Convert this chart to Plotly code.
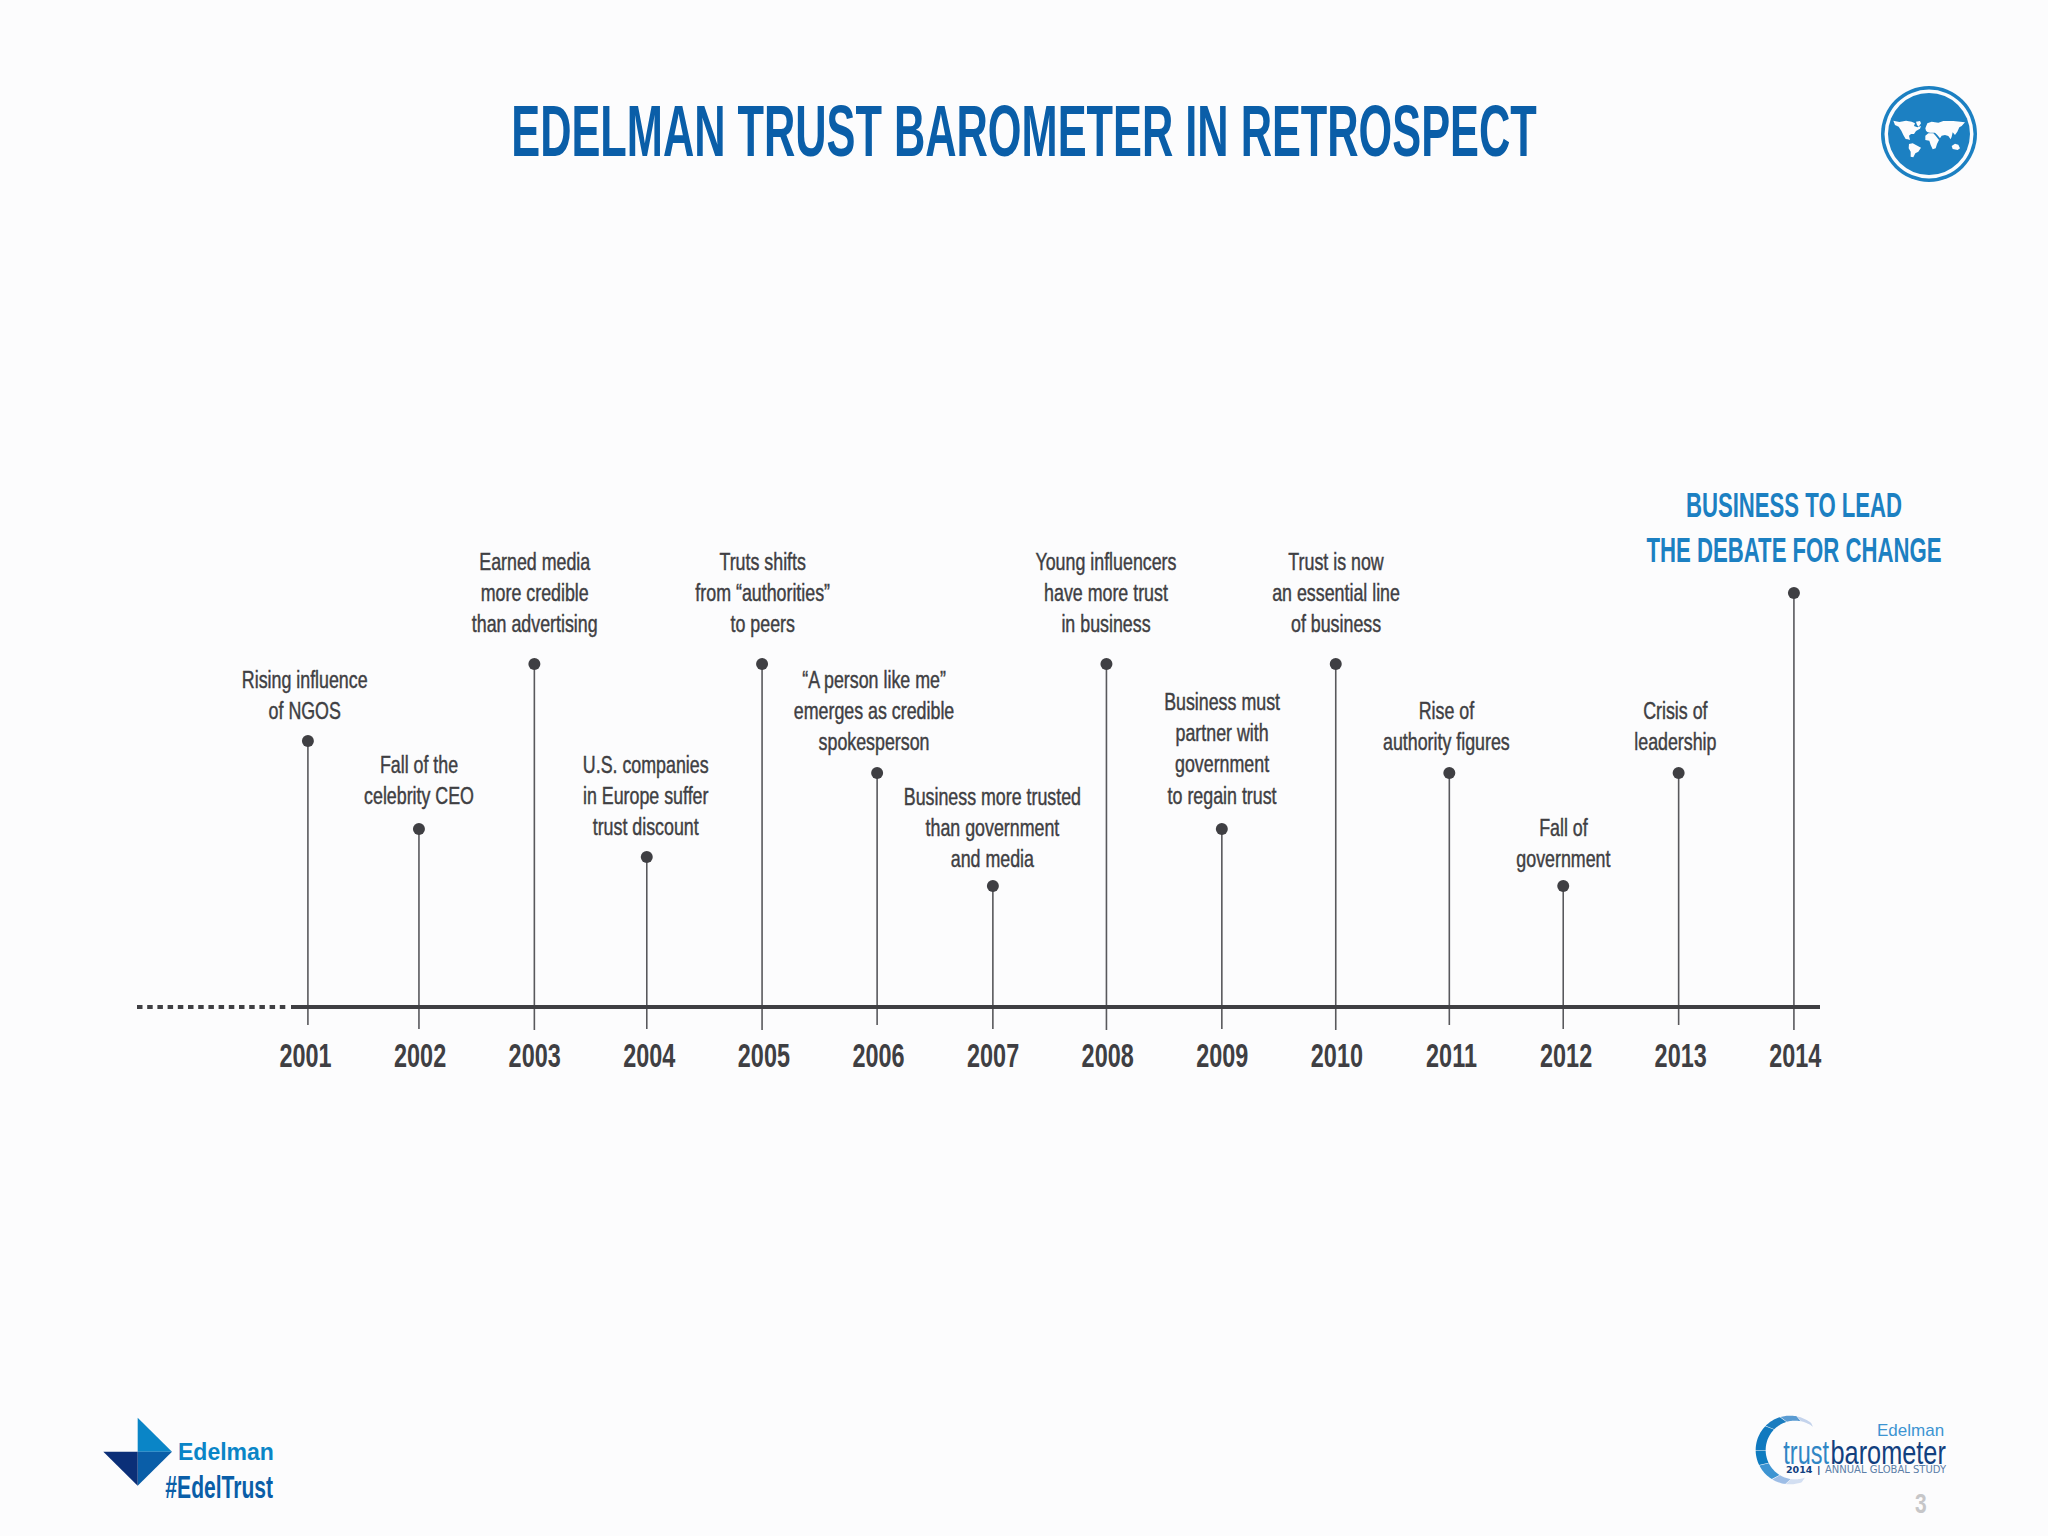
import numpy as np
import plotly.graph_objects as go

years = [2001, 2002, 2003, 2004, 2005, 2006, 2007, 2008, 2009, 2010, 2011, 2012, 2013, 2014]
# stems sit slightly off the year labels in the original
stem_years = [2001.021, 2001.990, 2002.997, 2003.978, 2004.984, 2005.988, 2006.998,
              2007.989, 2008.996, 2009.990, 2010.981, 2011.975, 2012.982, 2013.988]
stem_heights = [264, 176, 341, 148, 341, 232, 119, 341, 176, 341, 232, 119, 232, 412]
labels = [
    "Rising influence<br>of NGOS",
    "Fall of the<br>celebrity CEO",
    "Earned media<br>more credible<br>than advertising",
    "U.S. companies<br>in Europe suffer<br>trust discount",
    "Truts shifts<br>from “authorities”<br>to peers",
    "“A person like me”<br>emerges as credible<br>spokesperson",
    "Business more trusted<br>than government<br>and media",
    "Young influencers<br>have more trust<br>in business",
    "Business must<br>partner with<br>government<br>to regain trust",
    "Trust is now<br>an essential line<br>of business",
    "Rise of<br>authority figures",
    "Fall of<br>government",
    "Crisis of<br>leadership",
    "BUSINESS TO LEAD<br>THE DEBATE FOR CHANGE",
]
title_text = "EDELMAN TRUST BAROMETER IN RETROSPECT"

W, H = 2048, 1536
LEFT, RIGHT, BASE, TOP = 291, 1820, 1005, 0
BELOW = 30  # plot area runs past the axis so the stems can cross it
BOTTOM = BASE + BELOW
X_2001, STEP = 305.5, 114.6
NARROW = "Liberation Sans, sans-serif"
DARK = "#3f3f43"
BLUE = "#1c80c2"
NAVY = "#0a5ea8"
BG = "#fcfcfd"


def px(x):
    return (x - LEFT) / (RIGHT - LEFT)


def py(y):
    return (BOTTOM - y) / (BOTTOM - TOP)


def poly(pts, color):
    d = "M " + " L ".join(f"{px(x):.5f},{py(y):.5f}" for x, y in pts) + " Z"
    return dict(type="path", xref="paper", yref="paper", path=d,
                fillcolor=color, line_width=0, layer="above")


def disk(cx, cy, r, color):
    return dict(type="circle", xref="paper", yref="paper", x0=px(cx - r), x1=px(cx + r),
                y0=py(cy + r), y1=py(cy - r), fillcolor=color, line_width=0, layer="above")


def text(x, y, s, size, color, font=NARROW, anchor="center"):
    return dict(xref="paper", yref="paper", x=px(x), y=py(y), text=s, showarrow=False,
                xanchor=anchor, yanchor="middle", font=dict(family=font, size=size, color=color))


# stems run a little past the axis, standing in for ticks of uneven length
tails = [20, 24, 25, 24, 25, 20, 24, 25, 24, 25, 20, 24, 20, 25]

fig = go.Figure()
fig.add_trace(go.Scatter(
    x=stem_years, y=stem_heights, mode="markers",
    marker=dict(size=12, color=DARK),
    error_y=dict(type="data", symmetric=False, array=[0] * len(years),
                 arrayminus=[h + t for h, t in zip(stem_heights, tails)],
                 thickness=1.6, width=0, color="#58585c"),
    cliponaxis=False, hoverinfo="skip",
))

# label placement relative to each stem top
label_dx = [-3, 0, 0, -1, 0, -3, 0, 0, 0, 0, -3, 0, -3, 0]
label_gap = [30, 33, 40, 30, 40, 31, 27, 40, 33, 40, 31, 27, 31, 36]
annotations = []
for i, pos in enumerate(stem_years):
    last = years[i] == 2014
    annotations.append(dict(
        x=pos, y=stem_heights[i], text=f"<b>{labels[i]}</b>" if last else labels[i],
        xref="x", yref="y", showarrow=False, xanchor="center", yanchor="bottom",
        xshift=label_dx[i], yshift=label_gap[i] - 15,
        font=dict(family=NARROW, size=35 if last else 24, color=BLUE if last else DARK),
    ))

shapes = [dict(type="line", xref="paper", yref="paper", x0=px(137), x1=px(286), y0=py(1007), y1=py(1007),
               line=dict(color=DARK, width=4, dash="5.5px 4.7px"))]

# globe badge, top right
shapes += [disk(1929, 134, 48, BLUE), disk(1929, 134, 44.5, BG), disk(1929, 134, 41, BLUE)]
gx = lambda x: 1840 + x / 3
gy = lambda y: 70 + y / 3
continents = [
    [(160, 152), (178, 156), (198, 152), (215, 155), (225, 160), (222, 168), (232, 172), (243, 168), (240, 176),
     (228, 183), (222, 192), (213, 192), (207, 197), (210, 210), (203, 208), (197, 207), (190, 195), (184, 182),
     (176, 170), (165, 165)],
    [(228, 155), (240, 153), (243, 160), (236, 170), (231, 165)],
    [(207, 222), (218, 220), (232, 227), (243, 233), (235, 245), (226, 250), (220, 262), (212, 260), (212, 245), (206, 235)],
    [(256, 197), (265, 190), (280, 190), (285, 195), (297, 210), (291, 222), (287, 235), (278, 238), (272, 225),
     (268, 212), (256, 210)],
    [(256, 175), (262, 160), (275, 155), (295, 158), (310, 153), (340, 153), (375, 157), (365, 168), (358, 172),
     (352, 185), (345, 195), (338, 187), (335, 200), (332, 208), (325, 198), (315, 195), (305, 197), (300, 205),
     (292, 195), (285, 188), (270, 188), (262, 186), (258, 182)],
    [(335, 228), (345, 221), (355, 224), (360, 235), (353, 240), (338, 237)],
]
for c in continents:
    shapes.append(poly([(gx(x), gy(y)) for x, y in c], BG))

# Edelman mark, bottom left
lx = lambda x: x / 3
ly = lambda y: 1380 + y / 3
shapes.append(poly([(lx(413), ly(113)), (lx(516), ly(215)), (lx(413), ly(215))], "#0a85c7"))
shapes.append(poly([(lx(413), ly(215)), (lx(516), ly(215)), (lx(413), ly(317))], NAVY))
shapes.append(poly([(lx(310), ly(215)), (lx(413), ly(215)), (lx(413), ly(317))], "#0b2f78"))

# trust barometer ring, bottom right
rx = lambda x: 1700 + x / 3
ry = lambda y: 1380 + y / 3
ring = [(52, 78, "#c4d3ec"), (79, 106, "#5a9bd2"), (107, 135, "#1a7cbf"), (136, 180, "#1079bf"),
        (181, 206, "#0f7cc0"), (207, 238, "#3d94d2"), (239, 262, "#9dbde6"), (263, 290, "#d3dff2")]
for a0, a1, col in ring:
    t = np.radians(np.linspace(a0, a1, 14))
    outer = [(rx(270 + 103 * np.cos(v)), ry(210 - 103 * np.sin(v))) for v in t]
    inner = [(rx(285 + 88 * np.cos(v)), ry(210 - 88 * np.sin(v))) for v in t[::-1]]
    shapes.append(poly(outer + inner, col))

annotations += [
    text(226, 1452, "<b>Edelman</b>", 23, "#0a85c7"),
    text(219, 1487, "<b>#EdelTrust</b>", 31, NAVY),
    text(1946, 1430, "Edelman", 17, "#3d94d2", anchor="right"),
    text(1806.5, 1452, "trust", 34, "#2f86c5"),
    text(1887.5, 1452, "barometer", 33, "#12407f"),
    text(1799, 1469, "<b>2014</b>", 9.5, "#12407f", font="DejaVu Sans"),
    text(1818, 1469, "<b>|</b>", 9.5, "#12407f", font="DejaVu Sans"),
    text(1885.5, 1469, "ANNUAL GLOBAL STUDY", 10, "#5d7fa8", font="DejaVu Sans"),
    text(1921, 1503, "<b>3</b>", 28, "#c6c6c8"),
]

fig.update_layout(
    width=W, height=H,
    margin=dict(l=LEFT, r=W - RIGHT, t=TOP, b=H - BOTTOM, pad=0),
    paper_bgcolor=BG, plot_bgcolor=BG,
    showlegend=False,
    title=dict(text=f"<b>{title_text}</b>", x=0.5, xanchor="center", y=1 - 131 / H, yanchor="middle",
               font=dict(family=NARROW, size=72, color=NAVY)),
    xaxis=dict(range=[2001 + (LEFT - X_2001) / STEP, 2001 + (RIGHT - X_2001) / STEP],
               anchor="free", position=(BELOW - 2) / BOTTOM,
               tickmode="array", tickvals=years, ticktext=[f"<b>{y}</b>" for y in years],
               showgrid=False, zeroline=False, showline=True, linecolor=DARK, linewidth=4,
               ticks="outside", ticklen=20, tickcolor="rgba(0,0,0,0)", ticklabelstandoff=-3,
               tickfont=dict(family=NARROW, size=34, color=DARK), fixedrange=True),
    yaxis=dict(range=[-BELOW, BASE], visible=False, fixedrange=True),
    annotations=annotations,
    shapes=shapes,
)

# no condensed face is installed, so squeeze the sans text horizontally after drawing
squeeze_js = """
document.body.style.margin = '0';
document.body.style.background = '%s';
var scales = {'72': 0.602, '35': 0.633, '34': 0.69, '33': 0.767, '31': 0.68, '28': 0.75, '24': 0.743};
document.querySelectorAll('.gtitle, .annotation-text, .xtick text').forEach(function (el) {
    var size = String(parseFloat(el.style.fontSize));
    var s = scales[size];
    if (!s) return;
    var b = el.getBBox();
    var cx = b.x + b.width / 2;
    var old = el.getAttribute('transform') || '';
    el.setAttribute('transform', old + ' translate(' + cx + ' 0) scale(' + s + ' 1) translate(' + (-cx) + ' 0)');
    if (size === '24') { el.style.stroke = el.style.fill; el.style.strokeWidth = '0.45px'; }
});
""" % BG

fig.write_html("out.html", post_script=squeeze_js, config=dict(displayModeBar=False))
